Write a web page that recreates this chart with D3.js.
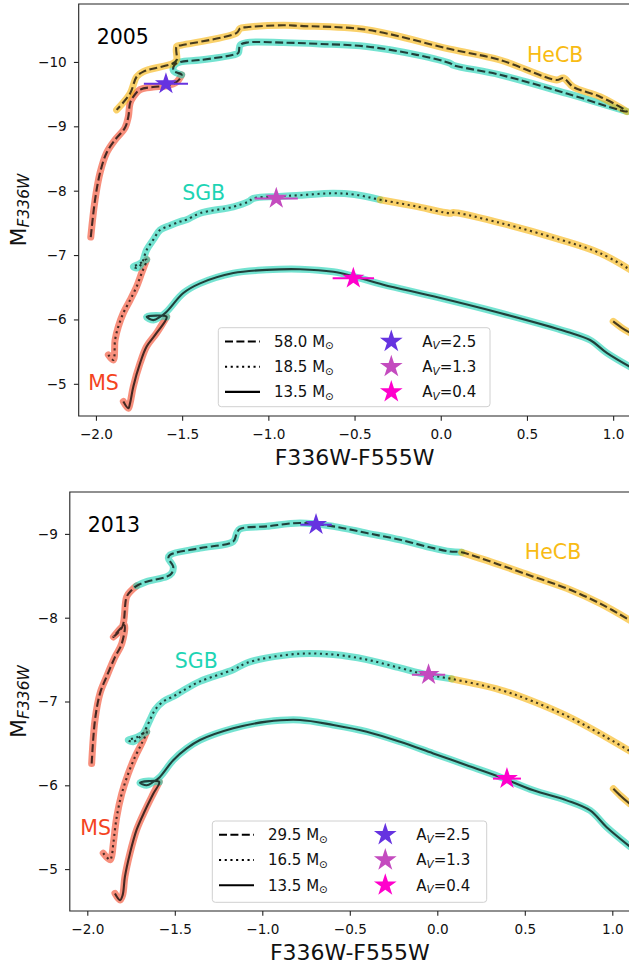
<!DOCTYPE html>
<html><head><meta charset="utf-8">
<script src="https://cdn.jsdelivr.net/npm/d3@7"></script>
<style>body{margin:0;background:#fff} svg{display:block;font-family:"DejaVu Sans",sans-serif}</style>
</head><body><svg id="c" width="629" height="969"></svg>
<script>
// ---------------- data ----------------
const xTicks = [-2.0, -1.5, -1.0, -0.5, 0.0, 0.5, 1.0];
const yTicks2005 = [-10, -9, -8, -7, -6, -5];
const yTicks2013 = [-9, -8, -7, -6, -5];
const massLabels2005 = ["58.0", "18.5", "13.5"];
const massLabels2013 = ["29.5", "16.5", "13.5"];
const avLabels = ["2.5", "1.3", "0.4"];
const phaseNames = ["MS", "SGB", "HeCB"];

// 2005 tracks
const t05a_MS = [[-2.03,-7.28],[-2.005,-7.86],[-1.976,-8.28],[-1.938,-8.59],[-1.889,-8.79],[-1.831,-8.98],[-1.812,-9.15],[-1.802,-9.36],[-1.783,-9.46],[-1.744,-9.57],[-1.669,-9.61],[-1.59,-9.63],[-1.532,-9.69],[-1.503,-9.80]];
const t05a_SGB = [[-1.503,-9.80],[-1.55,-9.86],[-1.545,-9.95],[-1.51,-10.0],[-1.396,-10.03],[-1.203,-10.11],[-1.174,-10.14],[-1.164,-10.26],[-1.126,-10.30],[-0.913,-10.30],[-0.70,-10.28],[-0.43,-10.24],[-0.139,-10.11],[0.054,-9.98],[0.073,-9.95],[0.344,-9.80],[0.731,-9.51],[1.079,-9.23]];
const t05a_HeCB = [[1.079,-9.23],[0.924,-9.46],[0.769,-9.61],[0.711,-9.75],[0.673,-9.72],[0.344,-10.03],[0.054,-10.20],[-0.43,-10.50],[-0.816,-10.56],[-0.913,-10.57],[-1.126,-10.54],[-1.164,-10.52],[-1.184,-10.45],[-1.503,-10.26],[-1.532,-10.24],[-1.532,-10.03],[-1.551,-9.98],[-1.725,-9.85],[-1.764,-9.77],[-1.802,-9.51],[-1.88,-9.255]];
const t05b_MS = [[-1.928,-5.45],[-1.899,-5.37],[-1.889,-5.68],[-1.87,-5.89],[-1.841,-6.10],[-1.802,-6.30],[-1.764,-6.51],[-1.735,-6.72],[-1.706,-6.93]];
const t05b_SGB = [[-1.706,-6.93],[-1.75,-6.86],[-1.783,-6.82],[-1.764,-6.80],[-1.735,-6.87],[-1.706,-7.08],[-1.667,-7.24],[-1.628,-7.39],[-1.57,-7.46],[-1.512,-7.52],[-1.474,-7.55],[-1.396,-7.65],[-1.203,-7.75],[-1.116,-7.83],[-1.087,-7.88],[-0.951,-7.91],[-0.816,-7.93],[-0.623,-7.96],[-0.50,-7.94],[-0.352,-7.86]];
const t05b_HeCB = [[-0.352,-7.86],[-0.15,-7.76],[0.054,-7.65],[0.073,-7.66],[0.344,-7.50],[0.692,-7.24],[0.924,-7.03],[1.10,-6.77]];
const t05c_MS = [[-1.841,-4.725],[-1.812,-4.62],[-1.802,-4.70],[-1.783,-4.96],[-1.744,-5.32],[-1.706,-5.58],[-1.648,-5.79],[-1.59,-6.04]];
const t05c_SGB = [[-1.59,-6.04],[-1.65,-6.06],[-1.706,-6.04],[-1.667,-5.99],[-1.628,-6.04],[-1.59,-6.12],[-1.493,-6.41],[-1.396,-6.56],[-1.203,-6.72],[-1.01,-6.77],[-0.816,-6.78],[-0.623,-6.74],[-0.507,-6.67],[-0.333,-6.54],[-0.043,-6.36],[0.344,-6.10],[0.731,-5.81],[0.866,-5.68],[0.963,-5.48],[1.10,-5.26]];
const t05c_HeCB = [[1.0,-5.97],[1.05,-5.87],[1.10,-5.79]];

// 2013 tracks
const t13a_MS = [[-1.975,-6.26],[-1.956,-6.78],[-1.927,-7.10],[-1.889,-7.30],[-1.842,-7.53],[-1.803,-7.69],[-1.788,-7.91],[-1.851,-7.77],[-1.80,-7.89],[-1.775,-8.25],[-1.746,-8.33],[-1.718,-8.38]];
const t13a_SGB = [[-1.718,-8.38],[-1.661,-8.43],[-1.546,-8.49],[-1.518,-8.53],[-1.509,-8.61],[-1.537,-8.71],[-1.527,-8.75],[-1.356,-8.83],[-1.166,-8.91],[-1.146,-9.01],[-1.127,-9.06],[-0.975,-9.09],[-0.785,-9.13],[-0.594,-9.09],[-0.403,-9.01],[-0.213,-8.93],[-0.023,-8.83],[0.073,-8.79],[0.139,-8.78]];
const t13a_HeCB = [[0.139,-8.78],[0.358,-8.63],[0.549,-8.49],[0.739,-8.35],[0.93,-8.17],[1.10,-7.97]];
const t13b_MS = [[-1.909,-5.19],[-1.87,-5.11],[-1.861,-5.15],[-1.851,-5.31],[-1.832,-5.62],[-1.803,-5.90],[-1.766,-6.14],[-1.727,-6.34],[-1.689,-6.50],[-1.661,-6.64]];
const t13b_SGB = [[-1.661,-6.64],[-1.72,-6.57],[-1.766,-6.54],[-1.737,-6.52],[-1.709,-6.56],[-1.68,-6.62],[-1.642,-6.78],[-1.613,-6.90],[-1.566,-7.00],[-1.509,-7.06],[-1.461,-7.12],[-1.356,-7.24],[-1.166,-7.38],[-1.089,-7.46],[-0.975,-7.52],[-0.785,-7.57],[-0.594,-7.56],[-0.403,-7.50],[-0.213,-7.40],[-0.061,-7.32],[0.082,-7.27]];
const t13b_HeCB = [[0.082,-7.27],[0.358,-7.14],[0.549,-7.00],[0.777,-6.79],[1.10,-6.41]];
const t13c_MS = [[-1.842,-4.71],[-1.813,-4.63],[-1.798,-4.69],[-1.785,-4.91],[-1.756,-5.19],[-1.718,-5.47],[-1.67,-5.70],[-1.623,-5.90],[-1.589,-6.04]];
const t13c_SGB = [[-1.589,-6.04],[-1.65,-6.05],[-1.699,-6.03],[-1.661,-6.00],[-1.623,-6.04],[-1.585,-6.10],[-1.509,-6.30],[-1.432,-6.44],[-1.356,-6.54],[-1.166,-6.68],[-0.975,-6.76],[-0.785,-6.78],[-0.594,-6.72],[-0.403,-6.64],[-0.213,-6.52],[-0.023,-6.38],[0.168,-6.24],[0.358,-6.10],[0.549,-5.94],[0.739,-5.82],[0.873,-5.70],[0.968,-5.50],[1.10,-5.27]];
const t13c_HeCB = [[1.006,-5.96],[1.05,-5.87],[1.10,-5.78]];

// observed star positions (A_V = 2.5, 1.3, 0.4)
const starX2005 = [-1.594, -0.954, -0.507];
const starY2005 = [-9.66, -7.88, -6.64];
const starXerr2005 = [0.128, 0.125, 0.12];
const starX2013 = [-0.693, -0.050, 0.398];
const starY2013 = [-9.11, -7.32, -6.08];
const starXerr2013 = [0.09, 0.095, 0.08];

// phase label positions (MS, SGB, HeCB)
const phaseLabelX2005 = [-2.045, -1.5, 0.5];
const phaseLabelY2005 = [-4.9, -7.85, -10.0];
const phaseLabelX2013 = [-2.04, -1.5, 0.5];
const phaseLabelY2013 = [-5.41, -7.4, -8.7];

// ---------------- styles ----------------
const phaseColor = {MS: "#f24a2c", SGB: "#1fd2b4", HeCB: "#f7b50e"};
const phaseTextColor = {MS: "#f4441f", SGB: "#1ed4b4", HeCB: "#f8bb14"};
const starColors = ["#6633e0", "#c44bbf", "#ff00cc"];
const dashes = ["8,3.4", "2.1,3.6", null];

const panels = [
  {year: "2005", left: 78.7, right: 630.4, top: 4, bottom: 416, yDomain: [-4.5, -10.9], yTicks: yTicks2005,
   tracks: [[t05a_MS, t05a_SGB, t05a_HeCB], [t05b_MS, t05b_SGB, t05b_HeCB], [t05c_MS, t05c_SGB]],
   extra: [[t05c_HeCB, 2]],
   sx: starX2005, sy: starY2005, se: starXerr2005, masses: massLabels2005,
   lx: phaseLabelX2005, ly: phaseLabelY2005, legend: {x: 218.3, y: 327.7, w: 271.7, h: 79}},
  {year: "2013", left: 69.8, right: 629.8, top: 492, bottom: 911, yDomain: [-4.5, -9.5], yTicks: yTicks2013,
   tracks: [[t13a_MS, t13a_SGB, t13a_HeCB], [t13b_MS, t13b_SGB, t13b_HeCB], [t13c_MS, t13c_SGB]],
   extra: [[t13c_HeCB, 2]],
   sx: starX2013, sy: starY2013, se: starXerr2013, masses: massLabels2013,
   lx: phaseLabelX2013, ly: phaseLabelY2013, legend: {x: 212.3, y: 821, w: 274.4, h: 81.3}}
];

const svg = d3.select("#c");

panels.forEach((p, pi) => {
  const x = d3.scaleLinear().domain([-2.1, 1.1]).range([p.left, p.right]);
  const y = d3.scaleLinear().domain(p.yDomain).range([p.bottom, p.top]);
  const g = svg.append("g");
  const clipId = "clip" + pi;
  svg.append("clipPath").attr("id", clipId).append("rect")
    .attr("x", p.left).attr("y", p.top).attr("width", p.right - p.left).attr("height", p.bottom - p.top);
  const plot = g.append("g").attr("clip-path", `url(#${clipId})`);
  const line = d3.line().x(d => x(d[0])).y(d => y(d[1])).curve(d3.curveCatmullRom.alpha(0.5));

  // bands
  p.tracks.forEach(segs => {
    segs.forEach((seg, si) => {
      plot.append("path").attr("d", line(seg)).attr("fill", "none")
        .attr("stroke", phaseColor[phaseNames[si]]).attr("stroke-opacity", 0.62)
        .attr("stroke-width", 7).attr("stroke-linecap", "round").attr("stroke-linejoin", "round");
    });
  });
  p.extra.forEach(([seg, ti]) => {
    plot.append("path").attr("d", line(seg)).attr("fill", "none")
      .attr("stroke", phaseColor.HeCB).attr("stroke-opacity", 0.62)
      .attr("stroke-width", 7).attr("stroke-linecap", "round");
  });
  // black track lines
  p.tracks.forEach((segs, ti) => {
    const pts = [];
    segs.forEach((seg, si) => seg.forEach((pt, k) => { if (si > 0 && k === 0) return; pts.push(pt); }));
    plot.append("path").attr("d", line(pts)).attr("fill", "none")
      .attr("stroke", "#000").attr("stroke-opacity", 0.72).attr("stroke-width", 2.1)
      .attr("stroke-dasharray", dashes[ti]);
  });
  p.extra.forEach(([seg, ti]) => {
    plot.append("path").attr("d", line(seg)).attr("fill", "none")
      .attr("stroke", "#000").attr("stroke-opacity", 0.72).attr("stroke-width", 2.1)
      .attr("stroke-dasharray", dashes[ti]);
  });

  // stars with x error bars
  const star = d3.symbol(d3.symbolStar, 150);
  p.sx.forEach((sxv, i) => {
    plot.append("line").attr("x1", x(sxv - p.se[i])).attr("x2", x(sxv + p.se[i]))
      .attr("y1", y(p.sy[i])).attr("y2", y(p.sy[i]))
      .attr("stroke", starColors[i]).attr("stroke-width", 2);
    plot.append("path").attr("d", star()).attr("transform", `translate(${x(sxv)},${y(p.sy[i])})`)
      .attr("fill", starColors[i]);
  });

  // phase labels
  phaseNames.forEach((nm, i) => {
    g.append("text").attr("x", x(p.lx[i])).attr("y", y(p.ly[i]))
      .attr("font-size", 20.5).attr("fill", phaseTextColor[nm]).text(nm);
  });
  // year
  g.append("text").attr("x", p.left + 18).attr("y", p.top + 40).attr("font-size", 20.5).attr("fill", "#000").text(p.year);

  // axes
  const xAxis = d3.axisBottom(x).tickValues(xTicks).tickFormat(d3.format(".1f")).tickSize(4.8).tickPadding(8.4).tickSizeOuter(0);
  const ax = g.append("g").attr("transform", `translate(0,${p.bottom})`).call(xAxis);
  const yAxis = d3.axisLeft(y).tickValues(p.yTicks).tickFormat(d3.format("d")).tickSize(4.8).tickPadding(7.2).tickSizeOuter(0);
  const ay = g.append("g").attr("transform", `translate(${p.left},0)`).call(yAxis);
  [ax, ay].forEach(a => {
    a.select(".domain").remove();
    a.selectAll("line").attr("stroke", "#222").attr("stroke-width", 1.1);
    a.selectAll("text").attr("font-size", 13.6).attr("fill", "#111").attr("font-family", "DejaVu Sans");
  });
  // spines
  const sp = g.append("g").attr("stroke", "#222").attr("stroke-width", 1.1).attr("fill", "none");
  sp.append("path").attr("d", `M${p.left},${p.bottom}V${p.top}H${p.right}V${p.bottom}Z`);

  // axis labels
  g.append("text").attr("x", (p.left + p.right) / 2).attr("y", p.bottom + 48.5).attr("text-anchor", "middle")
    .attr("font-size", 22).attr("fill", "#111").text("F336W-F555W");
  const yl = g.append("text").attr("transform", `translate(25.5,${(p.top + p.bottom) / 2}) rotate(-90)`)
    .attr("text-anchor", "middle").attr("font-size", 22).attr("fill", "#111");
  yl.append("tspan").text("M");
  yl.append("tspan").attr("font-size", 15.5).attr("font-style", "italic").attr("dy", 3.5).text("F336W");

  // legend
  const L = p.legend;
  const lg = g.append("g");
  lg.append("rect").attr("x", L.x).attr("y", L.y).attr("width", L.w).attr("height", L.h).attr("rx", 3)
    .attr("fill", "#fff").attr("fill-opacity", 0.85).attr("stroke", "#d0d0d0").attr("stroke-width", 1);
  for (let i = 0; i < 3; i++) {
    const ry = L.y + 13.8 + 25.2 * i;
    lg.append("line").attr("x1", L.x + 6.7).attr("x2", L.x + 41.7).attr("y1", ry).attr("y2", ry)
      .attr("stroke", "#000").attr("stroke-width", 2.1).attr("stroke-dasharray", dashes[i]);
    const t1 = lg.append("text").attr("x", L.x + 55.7).attr("y", ry).attr("dy", "0.36em").attr("font-size", 15).attr("fill", "#111");
    t1.append("tspan").text(p.masses[i] + " M");
    t1.append("tspan").attr("font-size", 10.5).attr("dy", 2.5).text("\u2299");
    lg.append("path").attr("d", d3.symbol(d3.symbolStar, 160)()).attr("transform", `translate(${L.x + 173},${ry})`)
      .attr("fill", starColors[i]);
    const t2 = lg.append("text").attr("x", L.x + 204).attr("y", ry).attr("dy", "0.36em").attr("font-size", 15).attr("fill", "#111");
    t2.append("tspan").text("A");
    t2.append("tspan").attr("font-size", 10.5).attr("font-style", "italic").attr("dy", 2.5).text("V");
    t2.append("tspan").attr("dy", -2.5).text("=" + avLabels[i]);
  }
});
</script>
</body></html>
